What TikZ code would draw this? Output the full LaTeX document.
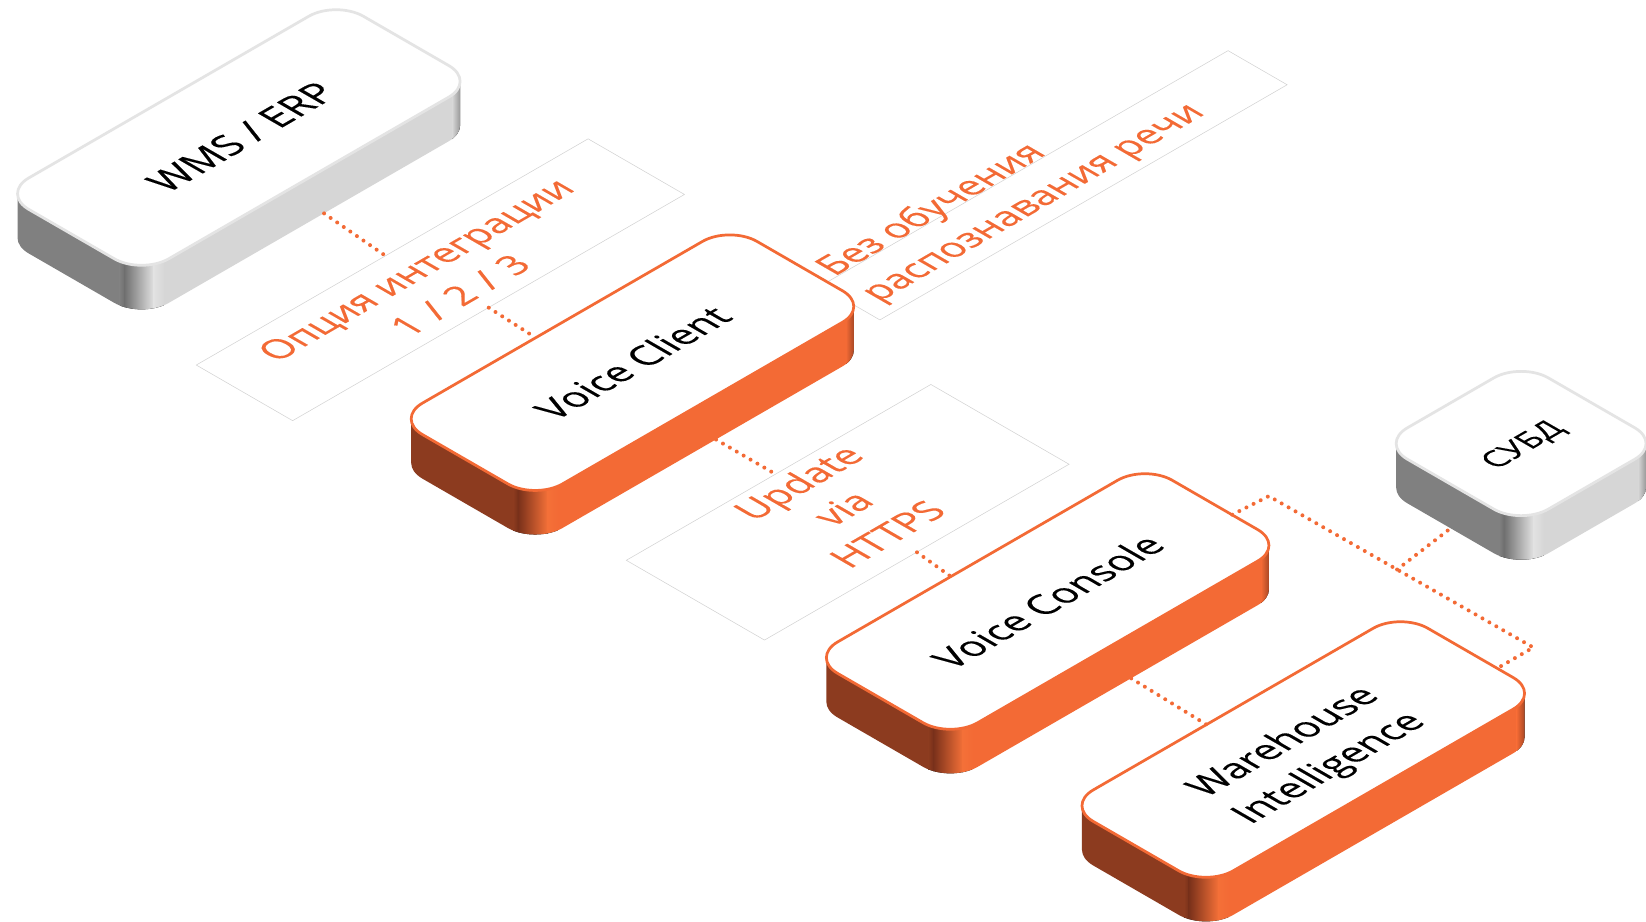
\documentclass[tikz,border=0pt]{standalone}
\usepackage{fontspec}
\setmainfont{Open Sans}
\newfontfamily\facefont[FakeBold=0.25]{Open Sans}
\newfontfamily\labelfont[FakeBold=0.2]{Open Sans}
\usetikzlibrary{calc}
\definecolor{accent}{HTML}{F36A35}
\definecolor{panelline}{HTML}{D2D2D2}
\definecolor{greydark}{HTML}{808080}
\definecolor{greydip}{HTML}{6F6F6F}
\definecolor{greylight}{HTML}{D6D6D6}
\definecolor{greyhi}{HTML}{E2E2E2}
\definecolor{greyborder}{HTML}{E4E4E4}
\definecolor{orangedark}{HTML}{8C3B1F}
\definecolor{orangedip}{HTML}{78301A}
\definecolor{orangelight}{HTML}{F36A35}
\definecolor{orangehi}{HTML}{F47038}
\definecolor{orangeborder}{HTML}{F36A35}
\tikzset{
  isoaxes/.style 2 args={cm={0.866,0.5,-0.866,0.5,(#1,#2)}},
  panelbox/.style={transform shape,draw=panelline,line width=0.5pt,inner sep=0pt},
  labeltext/.style={transform shape,inner sep=0pt,text=accent,font=\labelfont\fontsize{#1}{49}\selectfont},
  conn/.style={draw=accent,line width=3.8pt,line cap=round,dash pattern=on 0pt off 7.6pt},
  facetext/.style={transform shape,inner sep=0pt,align=center,text=black,font=\facefont\fontsize{#1}{50}\selectfont},
  faceshape/.style={transform shape,inner sep=0pt},
}
\def\txtoff{(0,0)}
\newcommand{\isobox}[8]{%
  \def\bxR{30}%
  \pgfmathsetmacro{\bxY}{878.3-#3}%
  \pgfmathsetmacro{\bxL}{#4/2}%
  \pgfmathsetmacro{\bxS}{#5/2}%
  \pgfmathsetmacro{\bxP}{\bxL-0.293*\bxR}%
  \pgfmathsetmacro{\bxQ}{\bxS-0.293*\bxR}%
  \pgfmathsetmacro{\bxX}{0.866*(\bxP+\bxQ)}%
  \pgfmathsetmacro{\bxA}{#2+0.866*(\bxS-\bxL)}%
  \begin{scope}[isoaxes={#2}{\bxY}]
    \clip[rounded corners=\bxR pt]
      (-\bxL,-\bxS) -- (\bxL,-\bxS) -- (\bxL,\bxS) -- (-\bxL,\bxS) -- cycle
      (-\bxL-42,-\bxS-42) -- (\bxL-42,-\bxS-42) -- (\bxL-42,\bxS-42) -- (-\bxL-42,\bxS-42) -- cycle
      [sharp corners]
      (-\bxP,\bxQ) -- (-\bxP-42,\bxQ-42) -- (\bxP-42,-\bxQ-42) -- (\bxP,-\bxQ) -- cycle;
    \pgftransformreset
    \fill[#6dark] (#2-\bxX-3,\bxY-200) rectangle (\bxA-20,\bxY+200);
    \fill[left color=#6dark,right color=#6dip] (\bxA-21,\bxY-200) rectangle (\bxA-16,\bxY+200);
    \fill[left color=#6dip,right color=#6hi] (\bxA-16.5,\bxY-200) rectangle (\bxA+12,\bxY+200);
    \fill[left color=#6hi,right color=#6light] (\bxA+11.5,\bxY-200) rectangle (\bxA+22,\bxY+200);
    \fill[#6light] (\bxA+21.5,\bxY-200) rectangle (#2+\bxX-7,\bxY+200);
    \fill[left color=#6light,right color=#6dark] (#2+\bxX-7.5,\bxY-200) rectangle (#2+\bxX+3,\bxY+200);
  \end{scope}
  \begin{scope}[isoaxes={#2}{\bxY}]
    \draw[draw=#6border,fill=white,line width=2.6pt,rounded corners=\bxR pt]
      (-\bxL,-\bxS) -- (\bxL,-\bxS) -- (\bxL,\bxS) -- (-\bxL,\bxS) -- cycle;
    \node[faceshape,minimum width=#4,minimum height=#5] (#1) at (0,0) {};
    \node[facetext=#7] (#1text) at \txtoff {#8};
  \end{scope}
}
\begin{document}
\begin{tikzpicture}[x=1pt,y=1pt]
\useasboundingbox (0,0) rectangle (1568,878.3);
\fill[white] (0,0) rectangle (1568,878.3);
% panels
\begin{scope}[isoaxes={419.5}{611.8}]
  \node[panelbox,minimum width=431,minimum height=106] (opt) at (0,0) {};
  \node[labeltext=35.6,align=center] (opttext) at (-4,-1) {Опция интеграции\\1\kern3pt{} /\kern3pt{} 2\kern3pt{} /\kern3pt{} 3};
\end{scope}
\begin{scope}[isoaxes={1004}{701.8}]
  \node[panelbox,minimum width=448,minimum height=65] (nolearn) at (0,0) {};
\end{scope}
\begin{scope}[isoaxes={807.5}{390.3}]
  \node[panelbox,minimum width=335,minimum height=152] (update) at (0,0) {};
  \node[labeltext=36,align=center] (updatetext) at (1,7) {Update\\via\\HTTPS};
\end{scope}
% boxes
\def\txtoff{(2,-1)}
\isobox{wms}{227.5}{131}{368}{154}{grey}{37.5}{WMS / ERP}
\def\txtoff{(0,0)}
\isobox{vclient}{602.5}{345.5}{368}{154}{orange}{36.4}{Voice Client}
\isobox{vconsole}{998}{573}{368}{154}{orange}{36.4}{Voice Console}
\def\txtoff{(-3.7,-8.3)}
\isobox{whouse}{1241.5}{714}{368}{154}{orange}{36.4}{Warehouse\\Intelligence}
\def\txtoff{(-0.5,-3.5)}
\isobox{dbms}{1449}{422.5}{155}{155}{grey}{30}{СУБД}
% free bends of the dotted bus
\coordinate (busa) at (1208.7,405.7);
\coordinate (busb) at (1460.6,261.5);
\coordinate (busc) at ($(busa)!0.485!(busb)$);
% connectors
\draw[conn] ($(wms.south west)!0.545!(wms.south east)+(0,-42)$) -- ($(opt.north west)!0.483!(opt.north east)$);
\draw[conn] (opt.south) -- ($(vclient.north west)!0.42!(vclient.north east)$);
\draw[conn] ($(vclient.south west)!0.54!(vclient.south east)+(0,-42)$) -- ($(update.north west)!0.49!(update.north east)$);
\draw[conn] (update.south) -- ($(vconsole.north west)!0.42!(vconsole.north east)$);
\draw[conn] ($(vconsole.south west)!0.54!(vconsole.south east)+(0,-42)$) -- ($(whouse.north west)!0.42!(whouse.north east)$);
\draw[conn] ($(vconsole.south east)!0.378!(vconsole.north east)$) -- (busa) -- (busb) -- ($(whouse.south east)!0.31!(whouse.north east)$);
\draw[conn] (busc) -- ($(dbms.west)+(0,-42)$);
% label that lies over the Voice Client edge
\begin{scope}[isoaxes={808}{607}]
  \node[labeltext=35.4,align=left,anchor=west] (nolearntext) at (0,0) {Без обучения\\распознавания речи};
\end{scope}
\end{tikzpicture}
\end{document}
